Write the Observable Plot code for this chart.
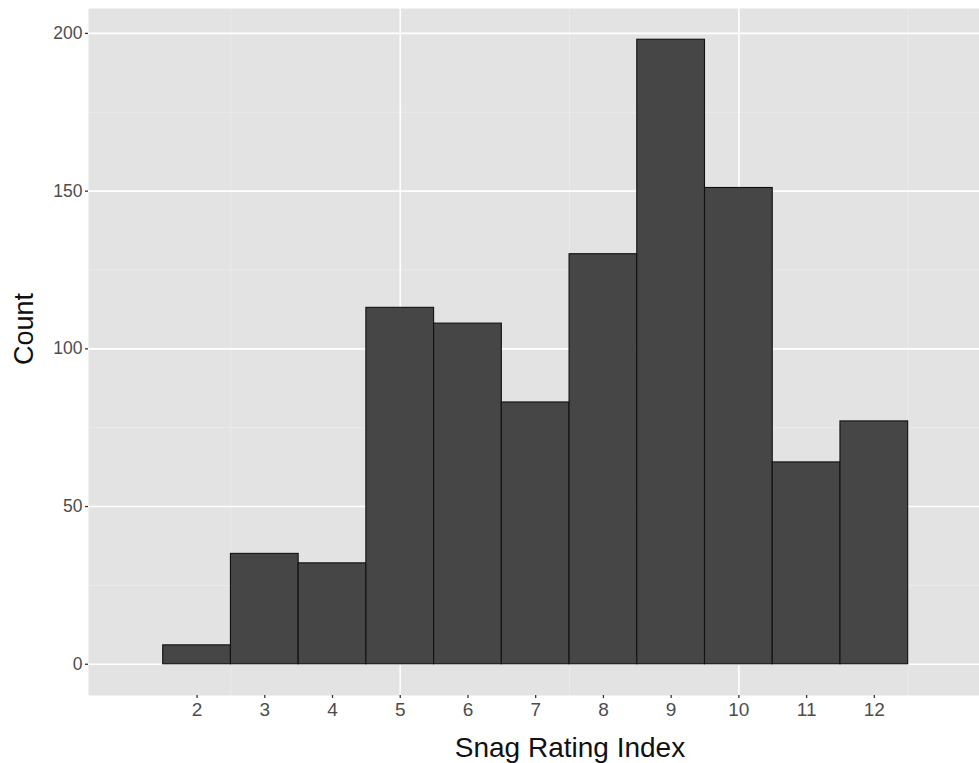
<!DOCTYPE html>
<html>
<head>
<meta charset="utf-8">
<script src="https://cdn.jsdelivr.net/npm/d3@7"></script>
<script src="https://cdn.jsdelivr.net/npm/@observablehq/plot@0.6"></script>
<style>
  html, body { margin: 0; padding: 0; background: #fff; }
  #chart { width: 979px; height: 763px; }
</style>
</head>
<body>
<div id="chart"></div>
<script>
// Histogram bins (Snag Rating Index) and counts
const ratings = [2, 3, 4, 5, 6, 7, 8, 9, 10, 11, 12];
const counts  = [6, 35, 32, 113, 108, 83, 130, 198, 151, 64, 77];
const xTicks = [2, 3, 4, 5, 6, 7, 8, 9, 10, 11, 12];
const yTicks = [0, 50, 100, 150, 200];
const xMajorGrid = [5, 10];
const xMinorGrid = [2.5, 7.5, 12.5];
const yMinorGrid = [25, 75, 125, 175];
const xTitle = "Snag Rating Index";
const yTitle = "Count";

const bins = ratings.map((r, i) => ({x1: r - 0.5, x2: r + 0.5, count: counts[i]}));

const font = "'Liberation Sans', Arial, Helvetica, sans-serif";

const plot = Plot.plot({
  width: 979,
  height: 763,
  marginLeft: 88,
  marginRight: 0,
  marginTop: 8,
  marginBottom: 68,
  style: {fontFamily: font, background: "#ffffff"},
  x: {domain: [0.397, 13.553], label: null},
  y: {domain: [-9.9, 207.9], label: null},
  marks: [
    Plot.frame({fill: "#e3e3e3", stroke: null}),
    Plot.ruleX(xMinorGrid, {stroke: "#ececec", strokeWidth: 0.8}),
    Plot.ruleY(yMinorGrid, {stroke: "#ececec", strokeWidth: 0.8}),
    Plot.ruleX(xMajorGrid, {stroke: "#ffffff", strokeWidth: 1.6}),
    Plot.ruleY(yTicks, {stroke: "#ffffff", strokeWidth: 1.6}),
    Plot.rectY(bins, {x1: "x1", x2: "x2", y1: 0, y2: "count", fill: "#464646", stroke: "#111111", strokeWidth: 1.1}),
    Plot.axisX({ticks: xTicks, tickSize: 3, tickPadding: 4, fontSize: 19, color: "#4d4d4d", stroke: "#333", strokeWidth: 1.3, label: null}),
    Plot.axisY({ticks: yTicks, tickSize: 3, tickPadding: 3, fontSize: 17.5, color: "#4d4d4d", stroke: "#333", strokeWidth: 1.3, label: null})
  ]
});

document.getElementById("chart").appendChild(plot);

const svg = d3.select(plot);
svg.append("text")
  .attr("x", 570).attr("y", 757)
  .attr("text-anchor", "middle")
  .attr("font-family", font)
  .attr("font-size", 28)
  .attr("fill", "#111")
  .text(xTitle);
svg.append("text")
  .attr("transform", "translate(33,329) rotate(-90)")
  .attr("text-anchor", "middle")
  .attr("font-family", font)
  .attr("font-size", 27)
  .attr("fill", "#111")
  .text(yTitle);
</script>
</body>
</html>
